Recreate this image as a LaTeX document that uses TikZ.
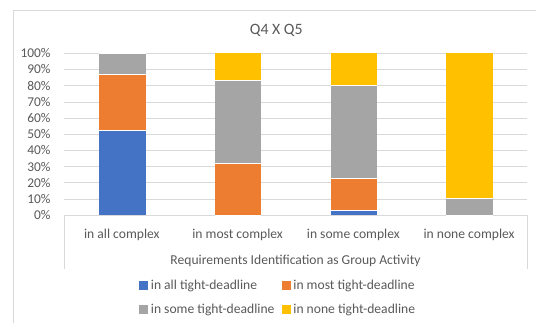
\documentclass[tikz,border=0pt]{standalone}
\usepackage{fontspec}
\setmainfont{Carlito}
\definecolor{serA}{HTML}{4472C4}
\definecolor{serB}{HTML}{ED7D31}
\definecolor{serC}{HTML}{A5A5A5}
\definecolor{serD}{HTML}{FFC000}
\definecolor{txt}{HTML}{595959}
\definecolor{grid}{HTML}{D9D9D9}
\tikzset{
  lbl/.style={text=txt,font=\fontsize{13.6}{15}\selectfont,inner sep=0pt},
  keybox/.style={minimum size=9pt,inner sep=0pt}
}
\begin{document}
\begin{tikzpicture}[x=1pt,y=-1pt]
\useasboundingbox (0,0) rectangle (536,323);
% chart frame
\draw[grid] (13.3,323) -- (13.3,10) -- (536,10);
\node[text=txt,font=\fontsize{15.8}{17}\selectfont,inner sep=0pt] (title) at (276.3,30) {Q4 X Q5};
% grid lines and ticks
\foreach \v in {0,10,...,100} {
  \draw[grid] (64,215-1.617*\v) -- (527,215-1.617*\v);
  \node[lbl,font=\fontsize{13.4}{15}\selectfont,anchor=east] (tick\v) at (50.7,215-1.617*\v) {\v\%};
}
% category box
\draw[grid] (64,215) -- (64,269);
\draw[grid] (527,215) -- (527,269);
% bars
\foreach \i/\a/\b/\c in {1/52.6/86.8/100,2/0/32/83.5,3/3.3/22.7/80.6,4/0/0/10.5} {
  \pgfmathsetmacro{\xc}{64+115.75*(\i-0.5)+0.4}
  \fill[serA] (\xc-23.25,215) rectangle (\xc+23.25,215-1.617*\a);
  \fill[serB] (\xc-23.25,215-1.617*\a) rectangle (\xc+23.25,215-1.617*\b);
  \fill[serC] (\xc-23.25,215-1.617*\b) rectangle (\xc+23.25,215-1.617*\c);
  \fill[serD] (\xc-23.25,215-1.617*\c) rectangle (\xc+23.25,215-161.7);
  \foreach \t in {\a,\b,\c} \draw[white,line width=0.3pt] (\xc-23.25,215-1.617*\t) -- (\xc+23.25,215-1.617*\t);
}
% category labels
\foreach \i/\t in {1/in all complex,2/in most complex,3/in some complex,4/in none complex}
  \node[lbl] (cat\i) at (64+115.75*\i-57.9,234.6) {\t};
\node[lbl] (axtitle) at (295.5,261) {Requirements Identification as Group Activity};
% legend
\node[keybox,fill=serA] (keyA) at (143.5,285.7) {};
\node[lbl,anchor=west] (legA) at (150.7,285.7) {in all tight-deadline};
\node[keybox,fill=serB] (keyB) at (286.2,285.7) {};
\node[lbl,anchor=west] (legB) at (293.2,285.7) {in most tight-deadline};
\node[keybox,fill=serC] (keyC) at (143.5,310) {};
\node[lbl,anchor=west] (legC) at (150.7,310) {in some tight-deadline};
\node[keybox,fill=serD] (keyD) at (286.2,310) {};
\node[lbl,anchor=west] (legD) at (293.2,310) {in none tight-deadline};
\end{tikzpicture}
\end{document}
